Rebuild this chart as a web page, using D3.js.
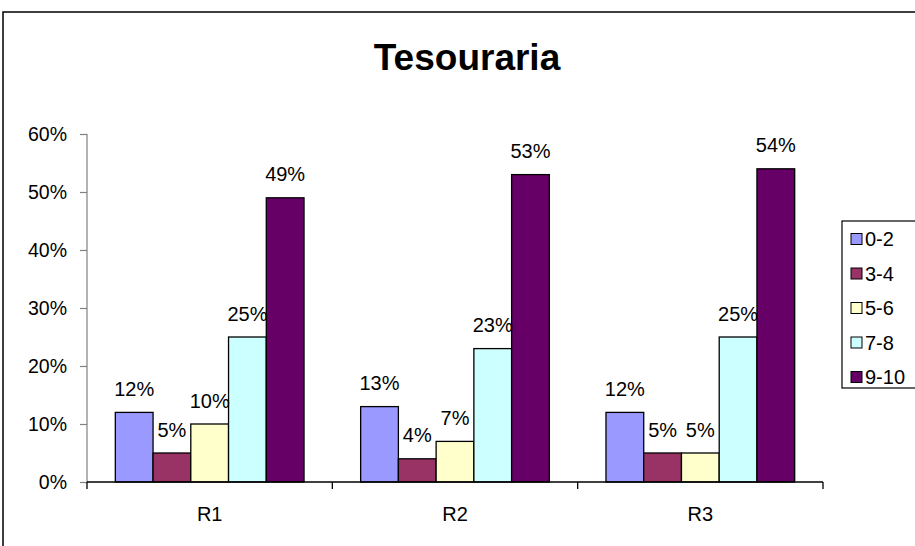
<!DOCTYPE html>
<html>
<head>
<meta charset="utf-8">
<script src="https://cdn.jsdelivr.net/npm/d3@7"></script>
<style>
  body { margin: 0; background: #fff; }
  svg text { font-family: "Liberation Sans", Arial, sans-serif; }
</style>
</head>
<body>
<svg id="chart" width="915" height="546"></svg>
<script>
// data
const categories = ["R1", "R2", "R3"];
const series = ["0-2", "3-4", "5-6", "7-8", "9-10"];
const v02 = [12, 13, 12];
const v34 = [5, 4, 5];
const v56 = [10, 7, 5];
const v78 = [25, 23, 25];
const v910 = [49, 53, 54];
const yTicks = [0, 10, 20, 30, 40, 50, 60];
const colors = ["#9999FF", "#993366", "#FFFFCC", "#CCFFFF", "#660066"];

const values = [v02, v34, v56, v78, v910];
const rows = categories.map((c, i) => ({ cat: c, vals: series.map((s, j) => ({ s: s, v: values[j][i] })) }));

const svg = d3.select("#chart");

// outer frame (runs off the picture on right and bottom)
svg.append("rect").attr("x", 3).attr("y", 12).attr("width", 930).attr("height", 560)
  .attr("fill", "white").attr("stroke", "black").attr("stroke-width", 1.5);

// title
svg.append("text").attr("x", 467).attr("y", 70).attr("text-anchor", "middle")
  .attr("font-size", 37).attr("font-weight", "bold").text("Tesouraria");

const x = d3.scaleBand().domain(categories).range([87, 823]);
const xs = d3.scaleBand().domain(series).range([0, x.bandwidth()]).paddingInner(0).paddingOuter(0.75);
const y = d3.scaleLinear().domain([0, 60]).range([482, 134]);

// y axis
const yAxis = svg.append("g").attr("transform", "translate(87,0)")
  .call(d3.axisLeft(y).tickValues(yTicks).tickFormat(d => d + "%").tickSize(7).tickPadding(13));
yAxis.selectAll("path, line").attr("stroke", "#808080").attr("stroke-width", 1.2);
yAxis.select(".domain").attr("d", "M0," + y(60) + "V" + y(0));
yAxis.selectAll("text").attr("font-size", 19.5).attr("fill", "black")
  .attr("font-family", "Liberation Sans, Arial, sans-serif");

// bars
const groups = svg.selectAll(".grp").data(rows).enter().append("g")
  .attr("transform", d => "translate(" + x(d.cat) + ",0)");

groups.selectAll("rect").data(d => d.vals).enter().append("rect")
  .attr("x", d => xs(d.s)).attr("width", xs.bandwidth())
  .attr("y", d => y(d.v)).attr("height", d => y(0) - y(d.v))
  .attr("fill", (d, i) => colors[i]).attr("stroke", "black").attr("stroke-width", 1.3);

groups.selectAll("text").data(d => d.vals).enter().append("text")
  .attr("x", d => xs(d.s) + xs.bandwidth() / 2).attr("y", d => y(d.v) - 16.5)
  .attr("text-anchor", "middle").attr("font-size", 20).text(d => d.v + "%");

// x axis
svg.append("line").attr("x1", 87).attr("x2", 823).attr("y1", y(0)).attr("y2", y(0))
  .attr("stroke", "black").attr("stroke-width", 1.3);
const bounds = categories.map(c => x(c)).concat([x.range()[1]]);
svg.selectAll(".xtick").data(bounds).enter().append("line")
  .attr("x1", d => d).attr("x2", d => d).attr("y1", y(0)).attr("y2", y(0) + 7)
  .attr("stroke", "black").attr("stroke-width", 1.3);
svg.selectAll(".xlab").data(categories).enter().append("text")
  .attr("x", d => x(d) + x.bandwidth() / 2).attr("y", 521)
  .attr("text-anchor", "middle").attr("font-size", 20).text(d => d);

// legend
svg.append("rect").attr("x", 842).attr("y", 221).attr("width", 90).attr("height", 167)
  .attr("fill", "white").attr("stroke", "black").attr("stroke-width", 1.2);
const leg = svg.selectAll(".leg").data(series).enter().append("g")
  .attr("transform", (d, i) => "translate(0," + (239 + i * 34.5) + ")");
leg.append("rect").attr("x", 851).attr("y", -5.5).attr("width", 11).attr("height", 11)
  .attr("fill", (d, i) => colors[i]).attr("stroke", "black").attr("stroke-width", 1);
leg.append("text").attr("x", 865).attr("y", 7).attr("font-size", 20).text(d => d);
</script>
</body>
</html>
